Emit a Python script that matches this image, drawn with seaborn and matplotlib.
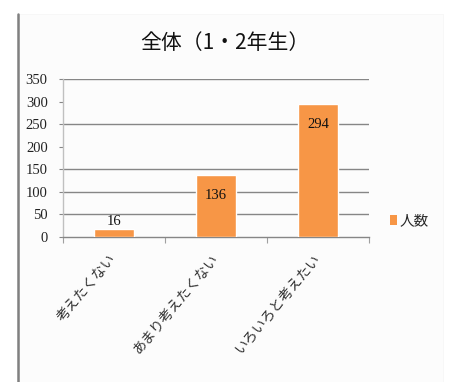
import matplotlib
matplotlib.use("Agg")
import matplotlib.pyplot as plt
import matplotlib.transforms as mtransforms
from matplotlib.lines import Line2D
from matplotlib.patches import Patch, Rectangle
import seaborn as sns
import pandas as pd
import numpy as np

# ---- data ----
categories = ["考えたくない", "あまり考えたくない", "いろいろと考えたい"]
values = [16, 136, 294]
series_name = "人数"
title = "全体（1・2年生）"
y_ticks = [0, 50, 100, 150, 200, 250, 300, 350]
hidden_grid = [200, 300]

sns.set_theme(style="white")
plt.rcParams["font.family"] = ["Noto Sans CJK JP", "DejaVu Sans"]

W, H = 449, 382
fig = plt.figure(figsize=(W / 100, H / 100), dpi=100)
fig.patch.set_facecolor("white")

# chart area background & left rule
fig.add_artist(Rectangle((19 / W, 0), (443 - 19) / W, 1 - 14 / H, transform=fig.transFigure,
                         facecolor="#fcfcfc", edgecolor="#f6f6f6", lw=0.6, zorder=0))
fig.add_artist(Line2D([18 / W, 18 / W], [0, 1 - 14 / H], transform=fig.transFigure,
                      color="#808080", lw=1.8))

ax = fig.add_axes([63 / W, 1 - 236.5 / H, (369 - 63) / W, (236.5 - 79.3) / H])
ax.set_facecolor("none")

df = pd.DataFrame({"category": categories, "value": values})
sns.barplot(data=df, x="category", y="value", color="#F79646", width=0.4,
            saturation=1, ax=ax, zorder=3)

ax.set_ylim(0, 350)
ax.set_xlim(-0.5, len(categories) - 0.5)
ax.set_yticks(y_ticks)
ax.set_yticklabels([str(t) for t in y_ticks], family="Liberation Serif", fontsize=10.5, color="#222222")
ax.set_xlabel("")
ax.set_ylabel("")

# gridlines
ax.yaxis.grid(True, color="#868686", lw=1.0, zorder=0)
ax.set_axisbelow(True)
for t, gl in zip(y_ticks, ax.yaxis.get_gridlines()):
    if t in hidden_grid or t == 0:
        gl.set_visible(False)

for s in ["top", "right"]:
    ax.spines[s].set_visible(False)
ax.spines["left"].set_color("#c0c0c0")
ax.spines["left"].set_linewidth(1.0)
ax.spines["bottom"].set_color("#868686")
ax.spines["bottom"].set_linewidth(1.0)

ax.tick_params(axis="y", which="major", left=True, length=3, width=0.8, color="#868686", pad=8)
# x tick marks at category boundaries
ax.set_xticks(np.arange(len(categories) + 1) - 0.5, minor=True)
ax.tick_params(axis="x", which="minor", bottom=True, length=4, width=0.8, color="#a0a0a0")
ax.tick_params(axis="x", which="major", bottom=False, pad=5)
ax.set_xticks(range(len(categories)))
ax.set_xticklabels(categories, rotation=50, ha="right", fontsize=10, color="#333333")
shift = mtransforms.ScaledTranslation(5 / 100, 0, fig.dpi_scale_trans)
for lbl in ax.get_xticklabels():
    lbl.set_transform(lbl.get_transform() + shift)

# data labels
for patch, v in zip(ax.patches, values):
    x = patch.get_x() + patch.get_width() / 2
    top = patch.get_height()
    if v < 50:
        ax.annotate(str(v), (x, top), xytext=(0, 8), textcoords="offset pixels",
                    ha="center", va="center", family="Liberation Serif", fontsize=10.5, color="#111111", zorder=5)
    else:
        ax.annotate(str(v), (x, top), xytext=(0, -20), textcoords="offset pixels",
                    ha="center", va="center", family="Liberation Serif", fontsize=10.5, color="#111111", zorder=5)

# title
fig.text(225 / W, 1 - 43 / H, title, ha="center", va="center", fontsize=15, color="#111111")

# legend
handle = Patch(facecolor="#F79646", edgecolor="none", label=series_name)
fig.legend(handles=[handle], loc="center left", bbox_to_anchor=(390 / W, 1 - 221 / H),
           frameon=False, fontsize=10.5, handlelength=0.5, handleheight=0.7, handletextpad=0.15,
           borderpad=0, borderaxespad=0)

fig.savefig("out.png", dpi=100)
